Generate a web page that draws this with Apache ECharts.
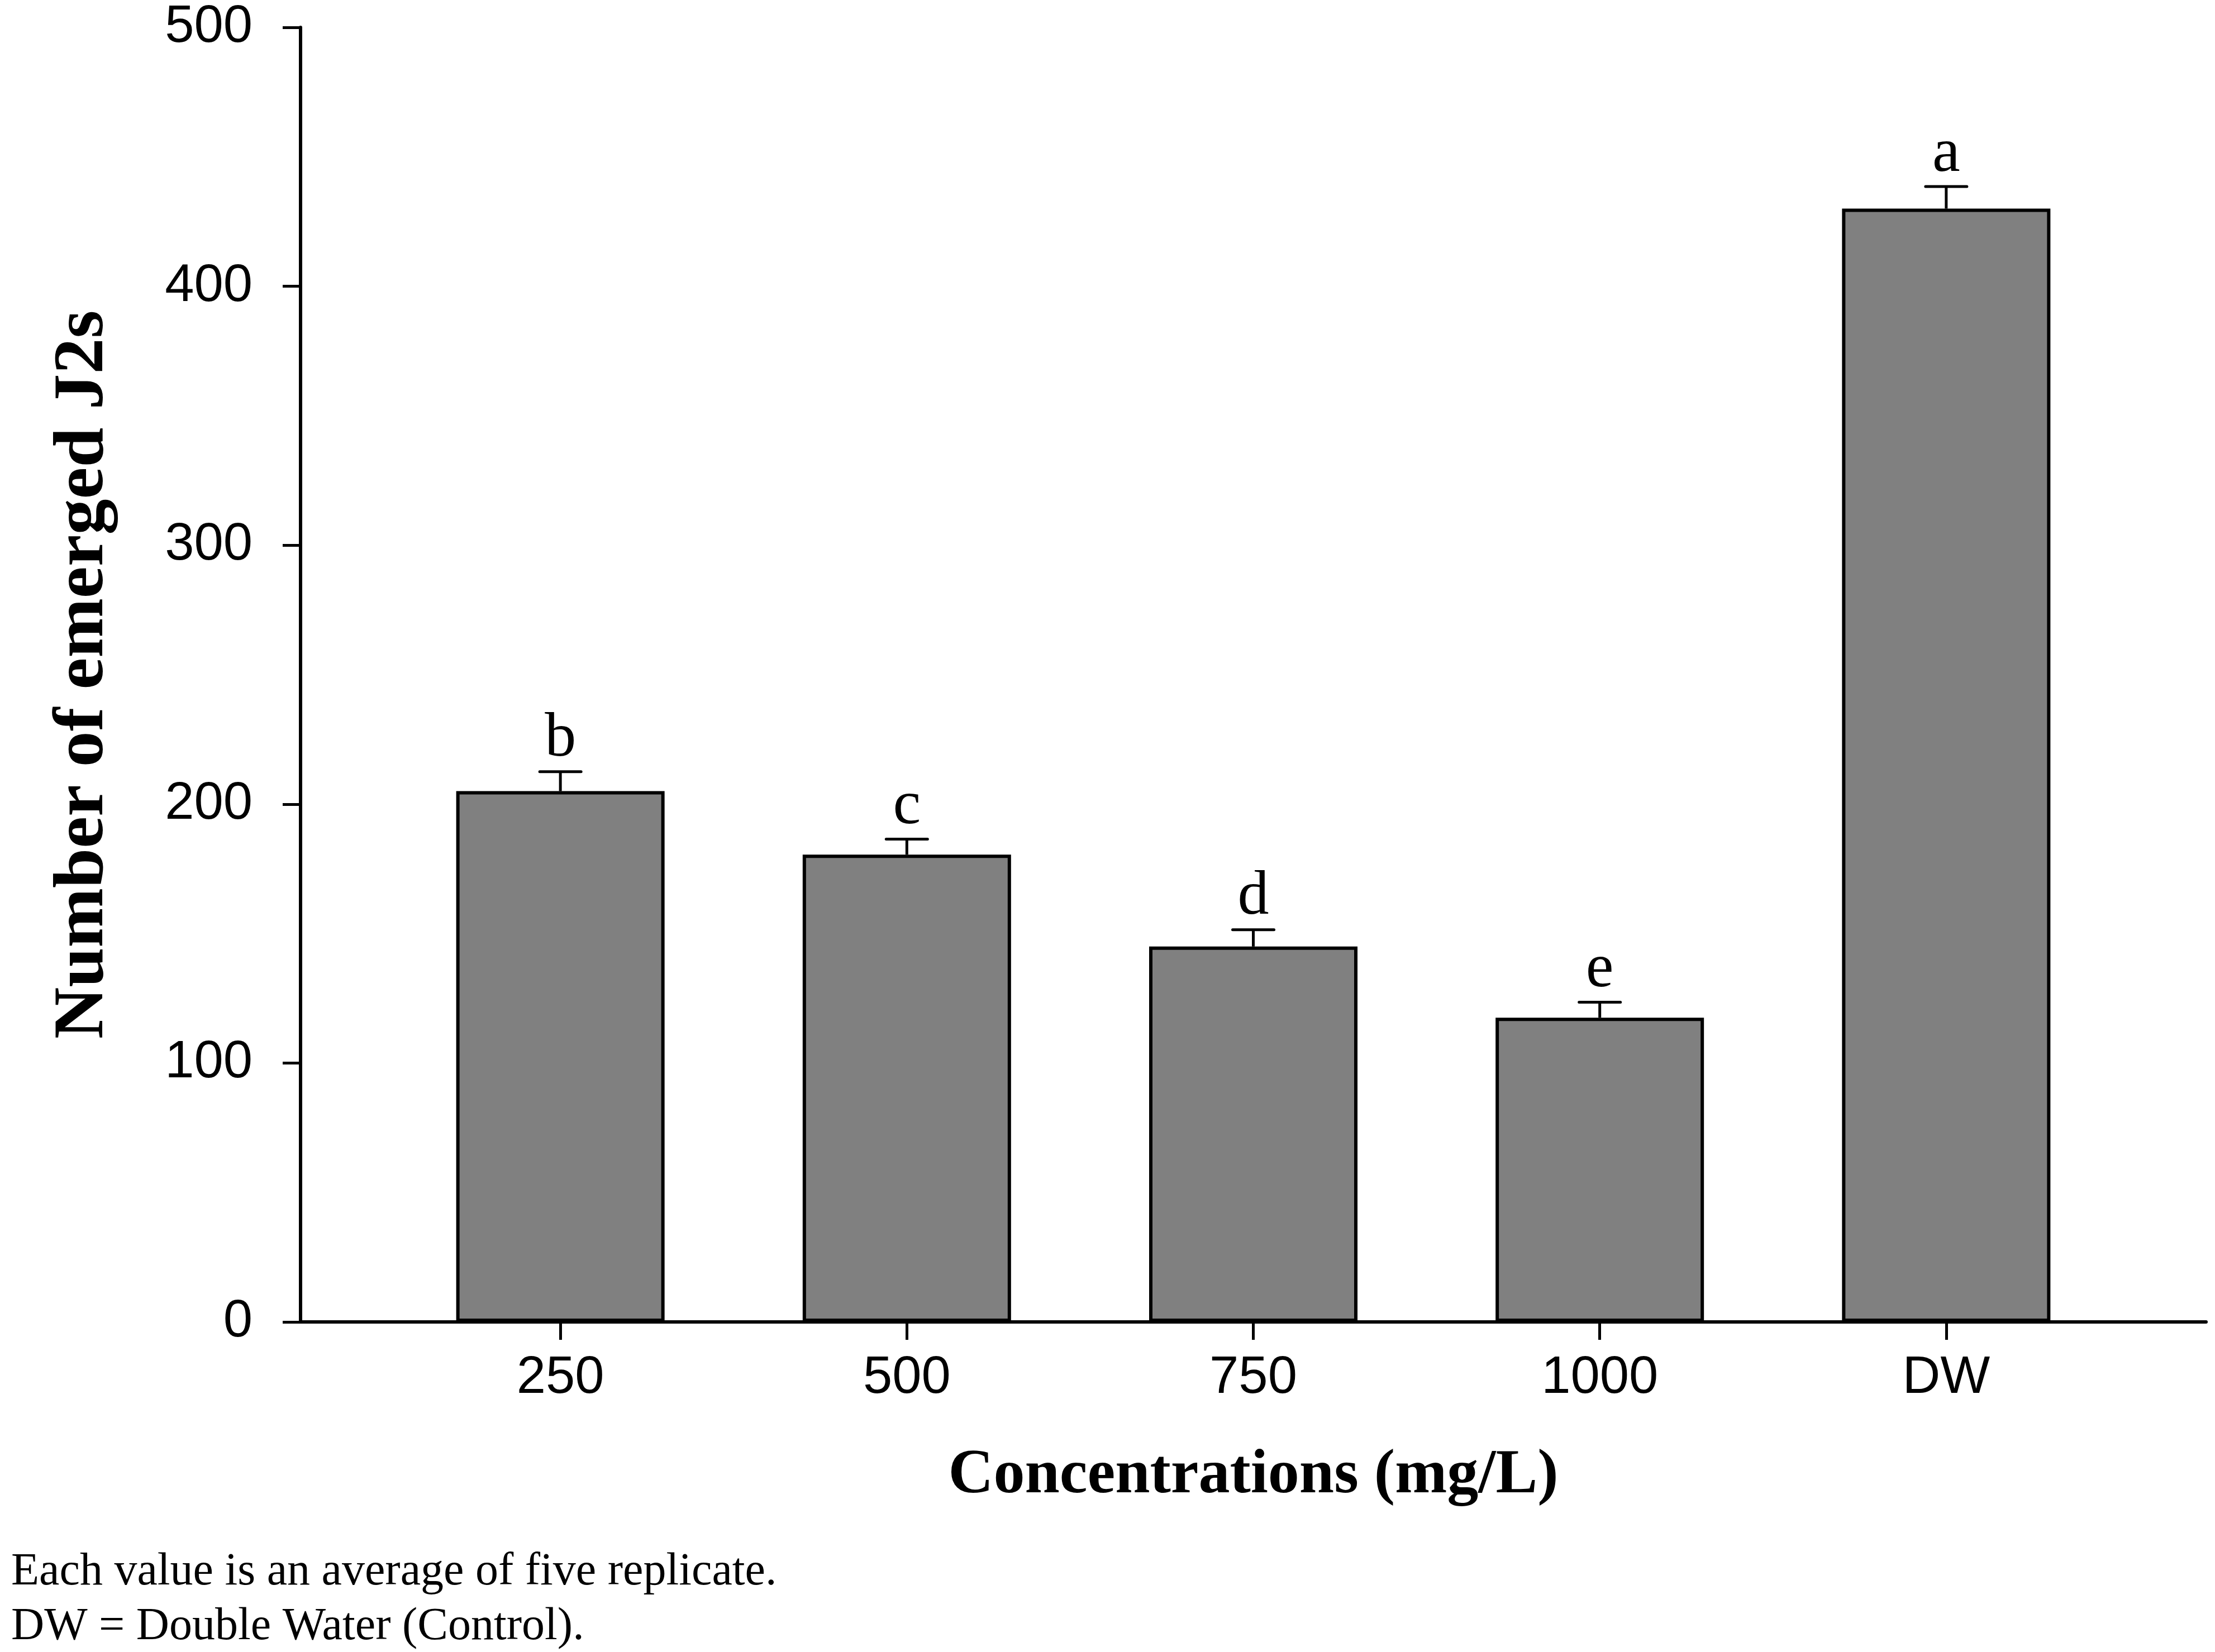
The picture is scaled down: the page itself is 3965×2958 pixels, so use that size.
<!DOCTYPE html>
<html><head><meta charset="utf-8">
<script src="https://cdn.jsdelivr.net/npm/echarts@6/dist/echarts.min.js"></script>
<style>html,body{margin:0;padding:0;background:#fff;} #c{width:3965px;height:2958px;}</style>
</head><body><div id="c"></div>
<script>
// ---- data ----
const categories = ['250', '500', '750', '1000', 'DW'];
const means = [205, 180.5, 145, 117.5, 430];
const errors = [7.5, 6, 6.5, 6, 8.5];
const letters = ['b', 'c', 'd', 'e', 'a'];
const yMin = 0, yMax = 500, yStep = 100;
const xTitle = 'Concentrations (mg/L)';
const yTitle = 'Number of emerged J2s';
const notes = ['Each value is an average of five replicate.', 'DW = Double Water (Control).'];

const positions = categories.map((c, i) => i + 1);
const barData = means.map((m, i) => [positions[i], m]);
const errData = means.map((m, i) => [positions[i], m, errors[i]]);

const chart = echarts.init(document.getElementById('c'), null, {renderer: 'canvas'});
const option = {
  backgroundColor: '#ffffff',
  animation: false,
  grid: {left: 538, right: 16, top: 49, bottom: 591, containLabel: false},
  xAxis: {
    type: 'value', min: 0.25, max: 5.75,
    axisLine: {onZero: false, lineStyle: {color: '#000', width: 6}},
    axisTick: {show: true, length: 32, customValues: positions, lineStyle: {color: '#000', width: 5}},
    axisLabel: {customValues: positions, margin: 54, fontSize: 94, fontFamily: 'Liberation Sans', color: '#000',
      formatter: v => categories[Math.round(v) - 1]},
    splitLine: {show: false},
    name: xTitle, nameLocation: 'middle', nameGap: 220,
    nameTextStyle: {fontSize: 112, fontWeight: 'bold', fontFamily: 'Liberation Serif', color: '#000'}
  },
  yAxis: {
    type: 'value', min: yMin, max: yMax, interval: yStep,
    axisLine: {onZero: false, lineStyle: {color: '#000', width: 6}},
    axisTick: {show: true, length: 32, lineStyle: {color: '#000', width: 5}},
    axisLabel: {margin: 86, fontSize: 94, fontFamily: 'Liberation Sans', color: '#000'},
    splitLine: {show: false},
    name: yTitle, nameLocation: 'middle', nameGap: 324, nameRotate: 90,
    nameTextStyle: {fontSize: 128, fontWeight: 'bold', fontFamily: 'Liberation Serif', color: '#000'}
  },
  series: [
    {
      type: 'bar', data: barData, barWidth: 373,
      itemStyle: {color: '#808080', borderColor: '#000', borderWidth: 6}
    },
    {
      type: 'custom', data: errData, z: 5,
      renderItem: function (params, api) {
        const x = api.value(0), m = api.value(1), e = api.value(2);
        const base = api.coord([x, m]);
        const top = api.coord([x, m + e]);
        const half = 37;
        return {
          type: 'group', children: [
            {type: 'line', shape: {x1: base[0], y1: base[1], x2: top[0], y2: top[1]}, style: {stroke: '#000', lineWidth: 5}},
            {type: 'line', shape: {x1: top[0] - half, y1: top[1], x2: top[0] + half, y2: top[1]}, style: {stroke: '#000', lineWidth: 5, lineCap: 'round'}},
            {type: 'text', x: top[0], y: top[1] - 2, style: {text: letters[params.dataIndex], font: '112px "Liberation Serif"', fill: '#000', align: 'center', verticalAlign: 'bottom'}}
          ]
        };
      }
    }
  ],
  graphic: [
    {type: 'text', left: 20, top: 2774, style: {text: notes[0], font: '82px "Liberation Serif"', fill: '#000'}},
    {type: 'text', left: 20, top: 2872, style: {text: notes[1], font: '82px "Liberation Serif"', fill: '#000'}}
  ]
};
chart.setOption(option);
</script>
</body></html>
